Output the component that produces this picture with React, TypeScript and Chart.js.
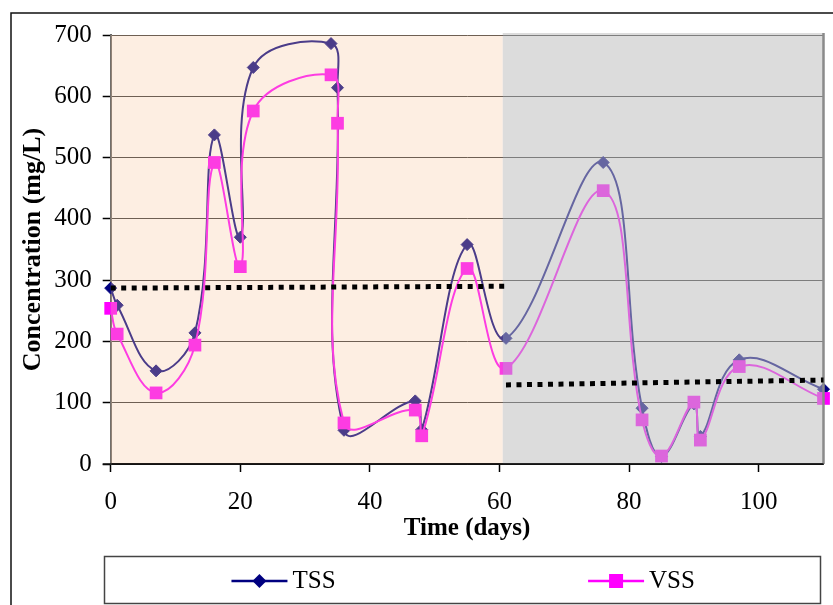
import { useEffect, useRef } from 'react';
import { Chart, registerables } from 'chart.js';

Chart.register(...registerables);

// ---- data ----
const days = [0, 1, 7, 13, 16, 20, 22, 34, 35, 36, 47, 48, 55, 61, 76, 82, 85, 90, 91, 97, 110];
const tss = [287, 259, 152, 214, 537, 370, 647, 686, 614, 55, 103, 56, 358, 205, 492, 91, 12, 98, 45, 170, 122];
const vss = [254, 212, 116, 194, 492, 322, 576, 635, 556, 67, 88, 46, 319, 156, 446, 72, 13, 101, 39, 159, 107];

const meanDays1 = [0, 61];
const meanVals1 = [287, 290];
const meanDays2 = [61, 110];
const meanVals2 = [129, 137];

const phaseStart = [0, 60.5];
const phaseEnd = [60.5, 110];

const xTicks = [0, 20, 40, 60, 80, 100];
const yTicks = [0, 100, 200, 300, 400, 500, 600, 700];

const FONT = "'Liberation Serif', 'Times New Roman', Times, serif";
const phaseColors = ['rgba(248,199,158,0.3)', 'rgba(190,190,190,0.537)'];

const toPoints = (xs: number[], ys: number[]) => xs.map((x, i) => ({ x, y: ys[i] }));

const phasePlugin = {
  id: 'phasePlugin',
  beforeDraw(chart: any) {
    const ctx = chart.ctx;
    ctx.save();
    ctx.strokeStyle = '#111';
    ctx.lineWidth = 1.5;
    ctx.beginPath();
    ctx.moveTo(11, chart.height + 10);
    ctx.lineTo(11, 13);
    ctx.lineTo(chart.width + 10, 13);
    ctx.stroke();
    ctx.restore();
  },
  afterDatasetDraw(chart: any, args: any) {
    if (args.index !== 1) return;
    const { ctx, chartArea, scales } = chart;
    const x = scales.x;
    ctx.save();
    phaseStart.forEach((s, i) => {
      const x0 = x.getPixelForValue(s);
      const x1 = x.getPixelForValue(phaseEnd[i]);
      const top = chartArea.top - (i === 1 ? 2 : 0);
      ctx.fillStyle = phaseColors[i];
      ctx.fillRect(x0, top, x1 - x0, chartArea.bottom - top);
    });
    ctx.strokeStyle = '#8a8a8a';
    ctx.lineWidth = 2.5;
    ctx.beginPath();
    ctx.moveTo(chartArea.right, chartArea.top - 2);
    ctx.lineTo(chartArea.right, chartArea.bottom);
    ctx.stroke();
    ctx.restore();
  },
  afterDraw(chart: any) {
    const { ctx, chartArea } = chart;
    ctx.save();
    ctx.strokeStyle = '#111';
    ctx.lineWidth = 1.5;
    ctx.beginPath();
    ctx.moveTo(chartArea.left - 8, chartArea.bottom);
    ctx.lineTo(chartArea.right, chartArea.bottom);
    ctx.stroke();

    const bx = 104.5, by = 556.5, bw = 716, bh = 47;
    ctx.strokeStyle = '#444';
    ctx.lineWidth = 1.5;
    ctx.strokeRect(bx, by, bw, bh);
    const items = chart.data.datasets.filter((d: any) => d.showInLegend);
    ctx.font = `25px ${FONT}`;
    ctx.textBaseline = 'middle';
    ctx.textAlign = 'left';
    const cy = by + bh / 2 + 1;
    items.forEach((d: any, i: number) => {
      const colW = bw / items.length;
      const cx = bx + colW * (i + 0.5);
      const tw = ctx.measureText(d.label).width;
      const lineW = 56;
      const w = lineW + 5 + tw;
      const sx = cx - w / 2;
      ctx.strokeStyle = d.legendColor;
      ctx.fillStyle = d.legendColor;
      ctx.lineWidth = 2.5;
      ctx.beginPath();
      ctx.moveTo(sx, cy);
      ctx.lineTo(sx + lineW, cy);
      ctx.stroke();
      const mx = sx + lineW / 2;
      ctx.beginPath();
      if (d.pointStyle === 'rectRot') {
        const r = 7;
        ctx.moveTo(mx - r, cy);
        ctx.lineTo(mx, cy - r);
        ctx.lineTo(mx + r, cy);
        ctx.lineTo(mx, cy + r);
        ctx.closePath();
      } else {
        const h = 7;
        ctx.rect(mx - h, cy - h, 2 * h, 2 * h);
      }
      ctx.fill();
      ctx.fillStyle = '#000';
      ctx.fillText(d.label, sx + lineW + 5, cy);
    });
    ctx.restore();
  },
};

export default function App() {
  const ref = useRef<HTMLCanvasElement | null>(null);

  useEffect(() => {
    if (!ref.current) return;
    const chart = new Chart(ref.current, {
      type: 'line',
      data: {
        datasets: [
          {
            label: 'TSS',
            data: toPoints(days, tss),
            borderColor: '#000080',
            backgroundColor: '#000080',
            borderWidth: 2,
            pointStyle: 'rectRot',
            pointRadius: 6,
            pointBorderWidth: 1,
            tension: 0.4,
            clip: false,
            order: 4,
            showInLegend: true,
            legendColor: '#000080',
          } as any,
          {
            label: 'VSS',
            data: toPoints(days, vss),
            borderColor: '#FF00FF',
            backgroundColor: '#FF00FF',
            borderWidth: 2,
            pointStyle: 'rect',
            pointRadius: 9,
            pointBorderWidth: 0,
            tension: 0.4,
            clip: false,
            order: 3,
            showInLegend: true,
            legendColor: '#FF00FF',
          } as any,
          {
            label: 'Mean phase 1',
            data: toPoints(meanDays1, meanVals1),
            borderColor: '#000',
            borderWidth: 5,
            borderDash: [5, 5.5],
            pointRadius: 0,
            tension: 0,
            clip: false,
            order: 1,
          } as any,
          {
            label: 'Mean phase 2',
            data: toPoints(meanDays2, meanVals2),
            borderColor: '#000',
            borderWidth: 5,
            borderDash: [5, 5.5],
            pointRadius: 0,
            tension: 0,
            clip: false,
            order: 2,
          } as any,
        ],
      },
      options: {
        responsive: false,
        animation: false,
        layout: { padding: { left: 18, top: 35, right: 833 - 823.5, bottom: 605 - 464 - 80 } },
        plugins: { legend: { display: false }, tooltip: { enabled: false } },
        scales: {
          x: {
            type: 'linear',
            min: 0,
            max: 110,
            afterBuildTicks: (s: any) => {
              s.ticks = xTicks.map((v) => ({ value: v }));
            },
            afterFit: (s: any) => {
              s.height = 80;
            },
            grid: { drawOnChartArea: false, tickLength: 8, tickColor: '#000', tickWidth: 1.5 },
            border: { color: '#000', width: 1.5 },
            ticks: { font: { family: FONT, size: 25 }, color: '#000', padding: 15, maxRotation: 0 },
            title: {
              display: true,
              text: 'Time (days)',
              font: { family: FONT, size: 25, weight: 'bold' },
              color: '#000',
              padding: 0,
            },
          },
          y: {
            type: 'linear',
            min: 0,
            max: 700,
            afterBuildTicks: (s: any) => {
              s.ticks = yTicks.map((v) => ({ value: v }));
            },
            afterFit: (s: any) => {
              s.width = 110.7 - 18;
            },
            grid: { color: '#333', tickColor: '#000', tickLength: 8, lineWidth: 1, tickWidth: 1.5 },
            border: { color: '#666', width: 2 },
            ticks: { font: { family: FONT, size: 25 }, color: '#000', padding: 11 },
            title: {
              display: true,
              text: 'Concentration (mg/L)',
              font: { family: FONT, size: 26, weight: 'bold' },
              color: '#000',
              padding: 0,
            },
          },
        },
      } as any,
      plugins: [phasePlugin as any],
    });
    return () => chart.destroy();
  }, []);

  return (
    <div style={{ position: 'absolute', left: 0, top: 0, width: 833, height: 605, overflow: 'hidden', background: '#fff' }}>
      <canvas ref={ref} width={833} height={605} style={{ display: 'block' }} />
    </div>
  );
}
